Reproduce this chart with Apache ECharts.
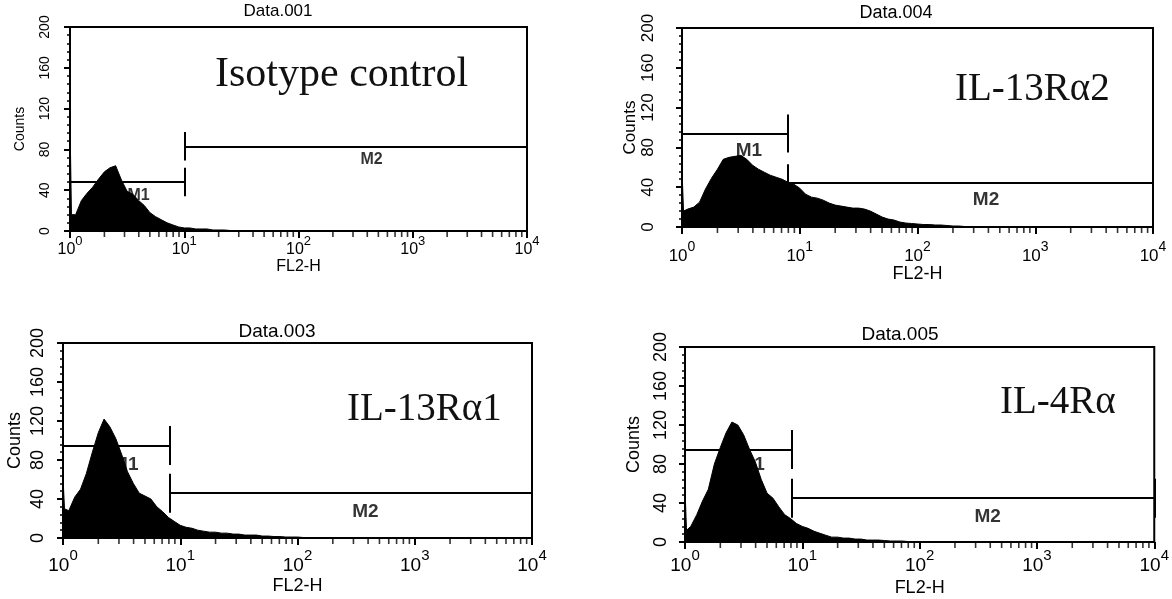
<!DOCTYPE html>
<html><head><meta charset="utf-8">
<script src="https://cdn.jsdelivr.net/npm/echarts@6/dist/echarts.min.js"></script>
<style>html,body{margin:0;padding:0;background:#fff}#c{width:1172px;height:599px}</style>
</head><body><div id="c"></div>
<script>
// FL2-H channel positions (shared by all histograms)
const fl2 = [1.00,1.03,1.12,1.26,1.41,1.58,1.78,2.00,2.24,2.51,2.82,3.16,3.55,3.98,4.47,5.01,5.62,6.31,7.08,7.94,8.91,
  10.0,11.2,12.6,14.1,15.8,17.8,20.0,22.4,25.1,28.2,31.6,35.5,39.8,44.7,50.1,56.2,63.1,70.8,79.4,89.1,
  100,112,126,141,158,178,200,224,251,282,316];
// Counts
const countsData001 = [108,16,16,30,37,43,51,58,62,64,50,39,36,30,25,18,14,11,8,6,4,
  3,3,2,2,2,1,1,1,0.5,0.5,0,0,0,0,0,0,0,0,0,0,
  0,0,0,0,0,0,0,0,0,0,0];
const countsData004 = [58,16,18,20,25,38,49,58,68,70,71,72,68,62,58,55,52,50,48,45,43,
  39,33,30,29,27,24,22,21,20,19,19,18,16,13,10,8,7,5,4,3.5,
  3,2.5,2.5,2,2,1.5,1,1,0.5,0.5,0];
const countsData003 = [62,30,28,42,50,66,88,108,122,114,102,86,68,56,46,43,40,32,27,21,17,
  13,11,10,8,7,6,6,5,5,4,4,3,3,3,2,2,1.5,1.5,1,1,
  1,0.5,0.5,0,0,0,0,0,0,0,0];
const countsData005 = [55,12,16,28,42,54,80,97,112,123,120,110,95,82,64,50,45,36,28,24,19,
  16,14,11,9,7,5,5,4,4,3,3,2,2,2,1.5,1,1,1,0.5,0.5,
  0,0,0,0,0,0,0,0,0,0,0];

const panelTitles = ['Data.001','Data.004','Data.003','Data.005'];
const panelLabels = ['Isotype control','IL-13R\u03b12','IL-13R\u03b11','IL-4R\u03b1'];
const panelCounts = [countsData001,countsData004,countsData003,countsData005];

// Region markers (FL2-H range and Counts level)
const m1Start = [1,1,1,1];
const m1End   = [10,7.9,8.2,8.1];
const m1Level = [48,94,95,95];
const m2Start = [10,7.9,8.2,8.1];
const m2End   = [10000,10000,10000,10000];
const m2Level = [83,44,46,45];
const markerNames = ['M1','M2'];
const m1LabelAt = [[3.98,35],[3.7,77],[3.4,75],[3.7,79]];
const m2LabelAt = [[436,70],[382,27],[380,27],[380,26]];

// Axis ticks
const xMajorTicks = [1,10,100,1000,10000];
const xMinorTicks = [2,3,4,5,6,7,8,9,20,30,40,50,60,70,80,90,200,300,400,500,600,700,800,900,2000,3000,4000,5000,6000,7000,8000,9000];
const yMin = 0, yMax = 200, yStep = 40;

// Layout / style per panel
const layout = [
  {grid:{left:70,top:27,width:457,height:204}, tf:16, sf:13, lh:29, xm:4, yf:14, ym:18, nf:16, ng:27, cg:43, ttx:278, tty:3, ttf:17, lbx:215, lby:54, lbf:42, mf:16, bar:14},
  {grid:{left:682,top:28,width:471,height:199}, tf:17, sf:14, lh:32, xm:13, yf:17, ym:25, nf:18, ng:35, cg:40, ttx:896, tty:4, ttf:18, lbx:955, lby:70, lbf:39, mf:19, bar:19},
  {grid:{left:63,top:343,width:469,height:195}, tf:19, sf:15, lh:35, xm:10, yf:18, ym:16, nf:18, ng:39, cg:39, ttx:277, tty:322, ttf:19, lbx:347, lby:390, lbf:39, mf:19, bar:20},
  {grid:{left:685,top:347,width:470,height:195}, tf:19, sf:15, lh:35, xm:6, yf:18, ym:15, nf:18, ng:37, cg:42, ttx:900, tty:325, ttf:19, lbx:1000, lby:383, lbf:39, mf:19, bar:20}
];

const SANS = 'Liberation Sans';
const SERIF = 'Liberation Serif';
const grids = [], xAxes = [], yAxes = [], series = [], titles = [];

layout.forEach((L, i) => {
  grids.push(Object.assign({show:true, borderColor:'#000', borderWidth:2, backgroundColor:'#fff'}, L.grid));
  xAxes.push({
    gridIndex:i, type:'log', logBase:10, min:xMajorTicks[0], max:xMajorTicks[xMajorTicks.length-1],
    name:'FL2-H', nameLocation:'middle', nameGap:L.ng,
    nameTextStyle:{fontFamily:SANS, fontSize:L.nf, color:'#000'},
    axisLine:{lineStyle:{color:'#000', width:2}},
    axisTick:{show:true, length:7, lineStyle:{color:'#000', width:2}},
    splitLine:{show:false},
    axisLabel:{
      showMinLabel:true, showMaxLabel:true, margin:L.xm, color:'#000',
      formatter:v => '{b|10}{s|' + Math.round(Math.log10(v)) + '}',
      rich:{
        b:{fontFamily:SANS, fontSize:L.tf, lineHeight:L.lh, color:'#000'},
        s:{fontFamily:SANS, fontSize:L.sf, lineHeight:L.sf, verticalAlign:'top', color:'#000'}
      }
    }
  });
  yAxes.push({
    gridIndex:i, type:'value', min:yMin, max:yMax, interval:yStep,
    name:'Counts', nameLocation:'middle', nameGap:L.cg,
    nameTextStyle:{fontFamily:SANS, fontSize:L.yf, color:'#000'},
    axisLine:{show:true, lineStyle:{color:'#000', width:2}},
    axisTick:{show:true, length:6, lineStyle:{color:'#000', width:2}},
    minorTick:{show:true, splitNumber:5, length:3, lineStyle:{color:'#000', width:1.5}},
    splitLine:{show:false},
    axisLabel:{rotate:90, margin:L.ym, fontFamily:SANS, fontSize:L.yf, color:'#000'}
  });
  titles.push({text:panelTitles[i], left:L.ttx, top:L.tty, textAlign:'center', padding:0,
    textStyle:{fontFamily:SANS, fontSize:L.ttf, fontWeight:'normal', color:'#000'}});
  titles.push({text:panelLabels[i], left:L.lbx, top:L.lby, padding:0,
    textStyle:{fontFamily:SERIF, fontSize:L.lbf, fontWeight:'normal', color:'#111'}});

  // marker labels (drawn beneath the histogram)
  series.push({
    type:'scatter', xAxisIndex:i, yAxisIndex:i, z:1, symbolSize:0, silent:true,
    data:[{name:markerNames[0], value:m1LabelAt[i]}, {name:markerNames[1], value:m2LabelAt[i]}],
    label:{show:true, position:'inside', formatter:'{b}', fontFamily:SANS, fontSize:L.mf, fontWeight:'bold', color:'#000'}
  });
  // histogram
  const c = panelCounts[i];
  series.push({
    type:'line', xAxisIndex:i, yAxisIndex:i, z:3, showSymbol:false, symbol:'none', silent:true,
    data: fl2.map((x, k) => [x, c[k]]),
    lineStyle:{color:'#000', width:1},
    areaStyle:{color:'#000', opacity:1},
    markLine:{
      silent:true, symbol:['none','none'], label:{show:false},
      lineStyle:{color:'#000', width:2, type:'solid'},
      data:[
        [{coord:[m1Start[i], m1Level[i]]}, {coord:[m1End[i], m1Level[i]]}],
        [{coord:[m1Start[i], m1Level[i]-L.bar]}, {coord:[m1Start[i], m1Level[i]+L.bar]}],
        [{coord:[m1End[i], m1Level[i]-L.bar]}, {coord:[m1End[i], m1Level[i]+L.bar]}],
        [{coord:[m2Start[i], m2Level[i]]}, {coord:[m2End[i], m2Level[i]]}],
        [{coord:[m2Start[i], m2Level[i]-L.bar]}, {coord:[m2Start[i], m2Level[i]+L.bar]}],
        [{coord:[m2End[i], m2Level[i]-L.bar]}, {coord:[m2End[i], m2Level[i]+L.bar]}]
      ]
    }
  });
  // minor log ticks on FL2-H axis
  series.push({
    type:'scatter', xAxisIndex:i, yAxisIndex:i, z:4, silent:true, clip:false,
    symbol:'rect', symbolSize:[1.6,5], symbolOffset:[0,3.5],
    itemStyle:{color:'#000'},
    data: xMinorTicks.map(x => [x, yMin])
  });
});

const chart = echarts.init(document.getElementById('c'), null, {renderer:'canvas'});
chart.setOption({
  backgroundColor:'#fff', animation:false,
  title:titles, grid:grids, xAxis:xAxes, yAxis:yAxes, series:series
});
</script>
</body></html>
